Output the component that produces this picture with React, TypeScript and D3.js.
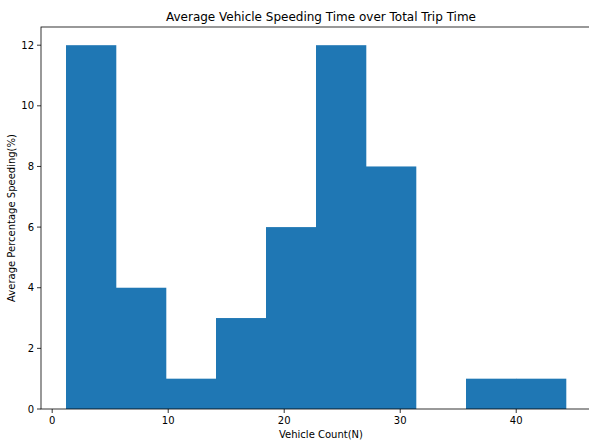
import React from "react";
import * as d3 from "d3";

const binEdges = [1.19, 5.5, 9.81, 14.12, 18.43, 22.74, 27.05, 31.36, 35.67, 39.98, 44.29];
const counts = [12, 4, 1, 3, 6, 12, 8, 0, 1, 1];
const xTicks = [0, 10, 20, 30, 40];
const yTicks = [0, 2, 4, 6, 8, 10, 12];
const title = "Average Vehicle Speeding Time over Total Trip Time";
const xLabel = "Vehicle Count(N)";
const yLabel = "Average Percentage Speeding(%)";

export default function App() {
  const W = 589, H = 442;
  const left = 41, right = 591, top = 27, bottom = 409;
  const x = d3.scaleLinear().domain([-0.965, 46.445]).range([left, right]);
  const y = d3.scaleLinear().domain([0, 12.6]).range([bottom, top]);
  const font = "DejaVu Sans, sans-serif";
  const bars = counts.map((c, i) => ({ x0: binEdges[i], x1: binEdges[i + 1], c }));
  return (
    <svg width={W} height={H} style={{ position: "absolute", left: 0, top: 0, background: "#fff" }} fontFamily={font}>
      {bars.map((b, i) =>
        b.c > 0 ? (
          <rect key={i} x={x(b.x0)} y={y(b.c)} width={x(b.x1) - x(b.x0) + 0.3} height={y(0) - y(b.c)} fill="#1f77b4" stroke="none" />
        ) : null
      )}
      <rect x={left} y={top} width={right - left} height={bottom - top} fill="none" stroke="#000" strokeWidth={0.8} />
      {xTicks.map((t) => (
        <g key={t} transform={`translate(${x(t)},${bottom})`}>
          <line y2={4} stroke="#000" strokeWidth={0.8} />
          <text y={15} textAnchor="middle" fontSize={10} fill="#000">{t}</text>
        </g>
      ))}
      {yTicks.map((t) => (
        <g key={t} transform={`translate(${left},${y(t)})`}>
          <line x2={-4} stroke="#000" strokeWidth={0.8} />
          <text x={-7} dy="0.35em" textAnchor="end" fontSize={10} fill="#000">{t}</text>
        </g>
      ))}
      <text x={(left + 589) / 2 + 6} y={21} textAnchor="middle" fontSize={12} fill="#000">{title}</text>
      <text x={(left + 589) / 2 + 6} y={438} textAnchor="middle" fontSize={10} fill="#000">{xLabel}</text>
      <text transform={`translate(15,${(top + bottom) / 2}) rotate(-90)`} textAnchor="middle" fontSize={10} fill="#000">{yLabel}</text>
    </svg>
  );
}
